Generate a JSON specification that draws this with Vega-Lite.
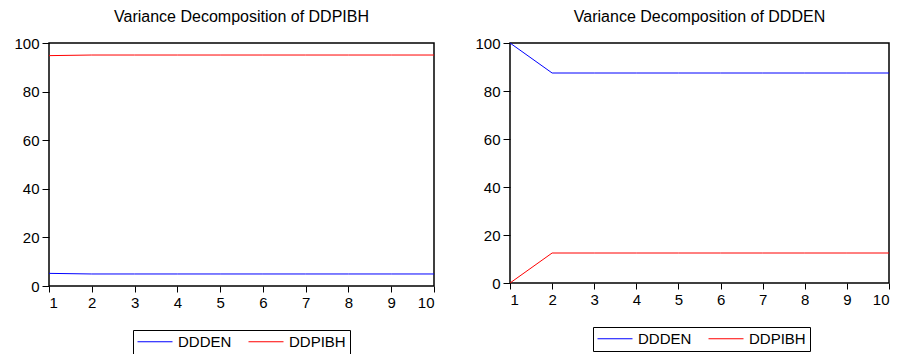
{
  "$schema": "https://vega.github.io/schema/vega-lite/v6.json",
  "padding": {"left": 13, "top": 8, "right": 5, "bottom": 0},
  "background": "white",
  "config": {
    "font": "Liberation Sans",
    "view": {"stroke": "black", "strokeWidth": 1.5},
    "title": {"fontSize": 16, "fontWeight": "normal", "color": "black", "anchor": "middle", "offset": 11},
    "axis": {"grid": false, "domain": false, "tickColor": "black", "labelColor": "black", "labelFontSize": 15, "tickSize": 7, "labelPadding": 3, "title": null},
    "legend": {"strokeColor": "black", "strokeWidth": 1, "padding": 4, "labelFontSize": 15, "labelColor": "black", "labelOffset": 26, "symbolType": "M-1,0H4", "symbolSize": 196, "symbolStrokeWidth": 1, "columnPadding": 14, "orient": "none", "direction": "horizontal", "title": null}
  },
  "data": {"values": [
    {"panel": "DDPIBH", "period": 1, "series": "DDDEN", "value": 5.2},
    {"panel": "DDPIBH", "period": 2, "series": "DDDEN", "value": 4.95},
    {"panel": "DDPIBH", "period": 3, "series": "DDDEN", "value": 4.95},
    {"panel": "DDPIBH", "period": 4, "series": "DDDEN", "value": 4.95},
    {"panel": "DDPIBH", "period": 5, "series": "DDDEN", "value": 4.95},
    {"panel": "DDPIBH", "period": 6, "series": "DDDEN", "value": 4.95},
    {"panel": "DDPIBH", "period": 7, "series": "DDDEN", "value": 4.95},
    {"panel": "DDPIBH", "period": 8, "series": "DDDEN", "value": 4.95},
    {"panel": "DDPIBH", "period": 9, "series": "DDDEN", "value": 4.95},
    {"panel": "DDPIBH", "period": 10, "series": "DDDEN", "value": 4.95},
    {"panel": "DDPIBH", "period": 1, "series": "DDPIBH", "value": 94.8},
    {"panel": "DDPIBH", "period": 2, "series": "DDPIBH", "value": 95.05},
    {"panel": "DDPIBH", "period": 3, "series": "DDPIBH", "value": 95.05},
    {"panel": "DDPIBH", "period": 4, "series": "DDPIBH", "value": 95.05},
    {"panel": "DDPIBH", "period": 5, "series": "DDPIBH", "value": 95.05},
    {"panel": "DDPIBH", "period": 6, "series": "DDPIBH", "value": 95.05},
    {"panel": "DDPIBH", "period": 7, "series": "DDPIBH", "value": 95.05},
    {"panel": "DDPIBH", "period": 8, "series": "DDPIBH", "value": 95.05},
    {"panel": "DDPIBH", "period": 9, "series": "DDPIBH", "value": 95.05},
    {"panel": "DDPIBH", "period": 10, "series": "DDPIBH", "value": 95.05},
    {"panel": "DDDEN", "period": 1, "series": "DDDEN", "value": 100},
    {"panel": "DDDEN", "period": 2, "series": "DDDEN", "value": 87.5},
    {"panel": "DDDEN", "period": 3, "series": "DDDEN", "value": 87.5},
    {"panel": "DDDEN", "period": 4, "series": "DDDEN", "value": 87.5},
    {"panel": "DDDEN", "period": 5, "series": "DDDEN", "value": 87.5},
    {"panel": "DDDEN", "period": 6, "series": "DDDEN", "value": 87.5},
    {"panel": "DDDEN", "period": 7, "series": "DDDEN", "value": 87.5},
    {"panel": "DDDEN", "period": 8, "series": "DDDEN", "value": 87.5},
    {"panel": "DDDEN", "period": 9, "series": "DDDEN", "value": 87.5},
    {"panel": "DDDEN", "period": 10, "series": "DDDEN", "value": 87.5},
    {"panel": "DDDEN", "period": 1, "series": "DDPIBH", "value": 0},
    {"panel": "DDDEN", "period": 2, "series": "DDPIBH", "value": 12.5},
    {"panel": "DDDEN", "period": 3, "series": "DDPIBH", "value": 12.5},
    {"panel": "DDDEN", "period": 4, "series": "DDPIBH", "value": 12.5},
    {"panel": "DDDEN", "period": 5, "series": "DDPIBH", "value": 12.5},
    {"panel": "DDDEN", "period": 6, "series": "DDPIBH", "value": 12.5},
    {"panel": "DDDEN", "period": 7, "series": "DDPIBH", "value": 12.5},
    {"panel": "DDDEN", "period": 8, "series": "DDPIBH", "value": 12.5},
    {"panel": "DDDEN", "period": 9, "series": "DDPIBH", "value": 12.5},
    {"panel": "DDDEN", "period": 10, "series": "DDPIBH", "value": 12.5}
  ]},
  "spacing": 38,
  "hconcat": [
    {
      "title": "Variance Decomposition of DDPIBH",
      "width": 385,
      "height": 243,
      "transform": [{"filter": "datum.panel === 'DDPIBH'"}],
      "mark": {"type": "line", "strokeWidth": 1, "clip": true},
      "encoding": {
        "x": {"field": "period", "type": "quantitative", "scale": {"domain": [1, 10], "nice": false, "zero": false}, "axis": {"values": [1,2,3,4,5,6,7,8,9,10], "tickSize": 6}},
        "y": {"field": "value", "type": "quantitative", "scale": {"domain": [0, 100], "nice": false}, "axis": {"values": [0,20,40,60,80,100]}},
        "color": {"field": "series", "type": "nominal", "scale": {"domain": ["DDDEN", "DDPIBH"], "range": ["#0000FF", "#FF0000"]}, "legend": {"legendX": 84, "legendY": 287}}
      }
    },
    {
      "title": "Variance Decomposition of DDDEN",
      "width": 379,
      "height": 240,
      "transform": [{"filter": "datum.panel === 'DDDEN'"}],
      "mark": {"type": "line", "strokeWidth": 1, "clip": true},
      "encoding": {
        "x": {"field": "period", "type": "quantitative", "scale": {"domain": [1, 10], "nice": false, "zero": false}, "axis": {"values": [1,2,3,4,5,6,7,8,9,10], "tickSize": 6}},
        "y": {"field": "value", "type": "quantitative", "scale": {"domain": [0, 100], "nice": false}, "axis": {"values": [0,20,40,60,80,100]}},
        "color": {"field": "series", "type": "nominal", "scale": {"domain": ["DDDEN", "DDPIBH"], "range": ["#0000FF", "#FF0000"]}, "legend": {"legendX": 83, "legendY": 284}}
      }
    }
  ],
  "resolve": {"legend": {"color": "independent"}, "scale": {"color": "independent"}}
}
